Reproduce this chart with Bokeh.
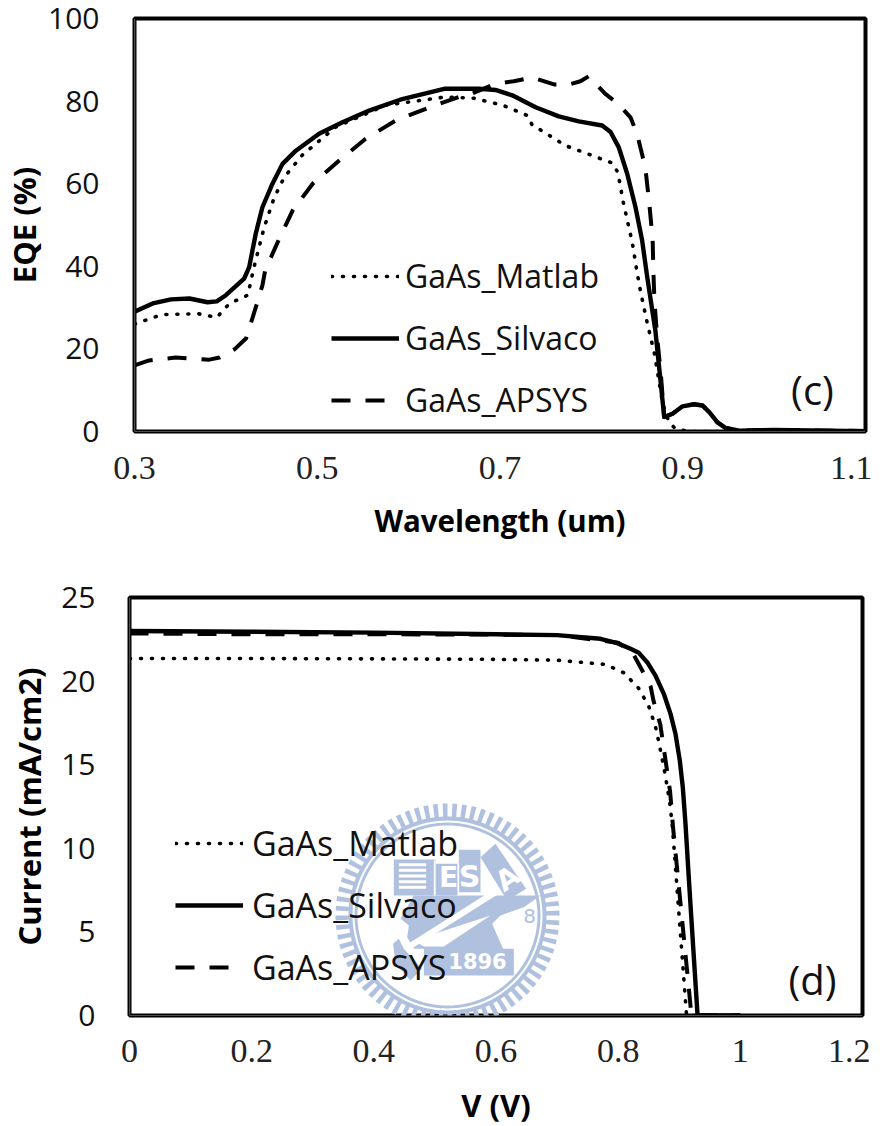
import math
from bokeh.embed import file_html
from bokeh.resources import INLINE
from bokeh.layouts import column
from bokeh.plotting import figure
from bokeh.models import Range1d, Span, Label, PolyAnnotation, FixedTicker, Arrow

# ---- panel (c) data ----
c_silvaco_x = [0.30,0.32,0.34,0.36,0.38,0.39,0.40,0.41,0.42,0.4255,0.4328,0.44,0.451,0.462,0.4766,0.502,0.5276,0.5568,0.593,0.64,0.6768,0.695,0.7134,0.739,0.7643,0.7862,0.8118,0.821,0.83,0.8392,0.8483,0.8556,0.8611,0.870,0.8797,0.8888,0.8998,0.9125,0.9216,0.929,0.938,0.947,0.9618,1.00,1.10]
c_silvaco_y = [29,31,32,32.2,31.3,31.5,33,35,37,39.8,48,54.3,60,64.8,68,72.1,74.9,77.7,80.5,83,83,82.7,81.4,78.5,76.3,75.1,74.1,72.5,68.8,62.4,54.3,46.2,37.4,24.5,3.5,4.3,6.1,6.6,6.3,4.7,2.2,0.84,0.2,0.4,0.1]
c_matlab_x = [0.30,0.305,0.33,0.37,0.39,0.404,0.424,0.431,0.442,0.453,0.464,0.484,0.52,0.575,0.64,0.671,0.703,0.73,0.735,0.772,0.823,0.829,0.835,0.845,0.85,0.854,0.861,0.869,0.878,0.885,0.892,0.907,1.10]
c_matlab_y = [26,26.4,28.3,28.5,27.6,31,33,40,49.5,56.7,61.6,67,73.7,79,81,80.7,79,76.5,74.3,69.2,65,62.7,55.4,45.5,38.5,33.7,26.4,18.9,6.8,2.2,0.7,0,0]
c_apsys_x = [0.30,0.316,0.345,0.382,0.393,0.41,0.422,0.429,0.434,0.44,0.443,0.456,0.473,0.495,0.524,0.553,0.586,0.623,0.655,0.665,0.695,0.715,0.735,0.76,0.775,0.788,0.797,0.815,0.83,0.843,0.85,0.859,0.863,0.867,0.868,0.869,0.872,0.876,0.8797,0.8888,0.8998,0.9125,0.9216,0.929,0.938,0.947,0.9618,1.00,1.10]
c_apsys_y = [16,17.2,17.9,17.4,17.9,20,22.5,27.4,31,35.4,39,45.5,53.5,60,65.6,70.9,75.3,78.5,81,81.4,84.2,84.8,85.7,84,84,84.8,86,81.8,79.2,76,72,64,56,46.7,38,31.7,22.8,14,3.5,4.3,6.1,6.6,6.3,4.7,2.2,0.84,0.2,0.4,0.1]

# ---- panel (d) data ----
d_matlab_v = [0,0.2,0.4,0.6,0.7,0.779,0.809,0.833,0.85,0.861,0.868,0.877,0.885,0.889,0.912,1.0]
d_matlab_i = [21.35,21.35,21.33,21.3,21.25,21,20.5,19.6,18.5,17.3,16.1,14.4,12.6,11.2,0,0]
d_silvaco_v = [0,0.2,0.4,0.6,0.7,0.771,0.7984,0.8202,0.8338,0.8475,0.8611,0.8747,0.8857,0.8938,0.9009,0.9058,0.9102,0.916,0.923,0.93,1.0]
d_silvaco_i = [23.0,22.95,22.9,22.8,22.75,22.53,22.27,21.93,21.69,21.13,20.33,19.24,18.04,16.85,15.25,13.65,11.47,8,4,0,0]
d_apsys_v = [0,0.2,0.4,0.6,0.7,0.80,0.825,0.837,0.853,0.858,0.869,0.877,0.885,0.89,0.92,1.0]
d_apsys_i = [22.85,22.8,22.8,22.78,22.75,22.3,21.6,20.8,19.7,18.8,17.4,15.4,13.4,11.2,0,0]

c_xticks = [0.3,0.5,0.7,0.9,1.1]
c_yticks = [0,20,40,60,80,100]
d_xticks = [0,0.2,0.4,0.6,0.8,1,1.2]
d_yticks = [0,5,10,15,20,25]
names = ["GaAs_Matlab","GaAs_Silvaco","GaAs_APSYS"]

SANS = "Open Sans"
SERIF = "Liberation Serif"
LOGO = "#AFC1DF"

def panel(xr, yr, xt, yt, fw, fh, left, top, bottom, xlabel, ylabel, xfs):
    p = figure(output_backend="svg", toolbar_location=None, x_range=Range1d(*xr), y_range=Range1d(*yr),
               frame_width=fw, frame_height=fh, min_border_left=left, min_border_top=top,
               min_border_bottom=bottom, min_border_right=870-left-fw, background_fill_color="white",
               border_fill_color="white", x_axis_label=xlabel, y_axis_label=ylabel)
    p.grid.visible = False
    p.outline_line_color = "black"
    p.outline_line_width = 4
    p.xaxis.ticker = FixedTicker(ticks=xt)
    p.yaxis.ticker = FixedTicker(ticks=yt)
    for ax in (p.xaxis[0], p.yaxis[0]):
        ax.axis_line_color = None
        ax.major_tick_line_color = None
        ax.minor_tick_line_color = None
        ax.axis_label_text_font = SANS
        ax.axis_label_text_font_style = "bold"
        ax.axis_label_text_color = "black"
        ax.major_label_text_color = "#111111"
    p.xaxis.axis_label_text_font_size = xfs
    p.yaxis.axis_label_text_font_size = "31px"
    p.xaxis.major_label_text_font = SERIF
    p.xaxis.major_label_text_font_size = "34px"
    p.xaxis.major_label_text_color = "#222222"
    p.yaxis.major_label_text_font = SANS
    p.yaxis.major_label_text_font_size = "30px"
    p.add_layout(Span(location=xr[0], dimension="height", line_color="#999999", line_width=1.2))
    p.add_layout(Span(location=yr[0], dimension="width", line_color="#999999", line_width=1.2))
    return p

def draw_lines(p, series):
    styles = [dict(line_width=3.6, line_dash="1 10", line_cap="round"),
              dict(line_width=4.4, line_join="round"),
              dict(line_width=4, line_dash="19 15", line_join="round")]
    for (x, y), name, st in zip(series, names, styles):
        p.line(x, y, line_color="black", legend_label=name, **st)

def style_legend(p, loc, fs, spacing, standoff):
    lg = p.legend[0]
    lg.location = loc
    lg.background_fill_alpha = 0
    lg.border_line_color = None
    lg.margin = 0
    lg.padding = 0
    lg.glyph_width = 68
    lg.glyph_height = 30
    lg.label_height = 30
    lg.label_standoff = standoff
    lg.spacing = spacing
    lg.label_text_font = SANS
    lg.label_text_font_size = fs
    lg.label_text_color = "#111111"

def circle_pts(cx, cy, r, n=120):
    a = [2*math.pi*i/n for i in range(n)]
    return [cx+r*math.cos(t) for t in a], [cy+r*math.sin(t) for t in a]

def poly(p, pts, color=LOGO, level="underlay"):
    p.add_layout(PolyAnnotation(xs=[q[0] for q in pts], ys=[q[1] for q in pts], xs_units="screen", ys_units="screen",
                                fill_color=color, fill_alpha=1, line_color=None, level=level,
                                editable=False))

def watermark(p, fx, fb):
    # fx, fb: page position of the frame's left and bottom edges
    cx, cy = 447-fx, fb-915
    teeth = []
    n = 72
    for i in range(n):
        for da, r in ((0.0,112),(0.5,112),(0.5,99),(1.0,99)):
            t = 2*math.pi*(i+da)/n
            teeth.append((cx+r*math.cos(t), cy+r*math.sin(t)))
    poly(p, teeth)
    # the teeth that stick out under the frame
    for i in range(n):
        t = 2*math.pi*(i+0.25)/n
        x1, y1 = cx+112*math.cos(t), cy+112*math.sin(t)
        if y1 < -3:
            k = (cy+3)/(112*abs(math.sin(t)))
            x0, y0 = cx+112*k*math.cos(t), -3
            p.add_layout(Arrow(end=None, start=None, x_start=x0, y_start=y0, x_end=x1, y_end=y1,
                               start_units="screen", end_units="screen",
                               line_color=LOGO, line_width=4.5))
    for r, c in ((95,"white"),(93,LOGO),(90,"white")):
        xs, ys = circle_pts(cx, cy, r)
        poly(p, list(zip(xs, ys)), c)
    def P(pts):
        return [(380+a/3-fx, fb-(840+b/3)) for a, b in pts]
    poly(p, P([(60,235),(100,165),(480,165),(430,200),(360,225),(335,250),(350,285),(368,325),(400,325),(400,405),(130,405),(130,325),(100,325),(80,290),(85,255)]))
    poly(p, P([(40,57),(165,57),(165,165),(40,165)]))
    poly(p, P([(165,70),(232,70),(232,165),(165,165)]))
    poly(p, P([(235,28),(300,28),(300,155),(235,155)]))
    poly(p, P([(345,10),(437,145),(380,180),(300,50)]))
    poly(p, P([(38,310),(55,295),(70,325),(125,385),(90,420),(45,370)]))
    for k in range(5):
        y0 = 68 + k*17
        poly(p, P([(55,y0),(137,y0),(137,y0+9),(55,y0+9)]), "white")
    poly(p, P([(75,315),(350,140),(362,155),(85,330)]), "white")
    poly(p, P([(130,318),(190,318),(330,225),(100,300)]), "white")
    poly(p, P([(160,60),(165,60),(165,165),(160,165)]), "white")
    poly(p, P([(231,70),(236,70),(236,165),(231,165)]), "white")
    for txt, x, y, fs, ang, col, st in (("1896",477,960,"21px",0,"white","bold"),("E",448,877,"28px",0,"white","bold"),
                                    ("S",469,876,"30px",0,"white","bold"),("A",507,878,"28px",0.6,"white","bold"),
                                    ("8",529,915,"20px",0,LOGO,"normal")):
        p.add_layout(Label(x=x-fx, y=fb-y, x_units="screen", y_units="screen", text=txt, text_font="DejaVu Sans",
                           text_font_style=st, text_font_size=fs, text_color=col, angle=ang,
                           text_align="center", text_baseline="middle", level="underlay"))

# ---- panel (c) ----
p1 = panel((0.3,1.1),(0,100),c_xticks,c_yticks,731,413,132,18,119,"Wavelength (um)","EQE (%)","29.5px")
draw_lines(p1, [(c_matlab_x,c_matlab_y),(c_silvaco_x,c_silvaco_y),(c_apsys_x,c_apsys_y)])
style_legend(p1, (197,10), "32px", 19, 6)
p1.add_layout(Label(x=810-132, y=431-389, x_units="screen", y_units="screen", text="(c)", text_font=SANS,
                    text_font_size="40px", text_color="#111111", text_align="center", text_baseline="middle"))
p1.yaxis.major_label_standoff = 29
p1.xaxis.major_label_standoff = 19
p1.yaxis.axis_label_standoff = 0
p1.xaxis.axis_label_standoff = 18

# ---- panel (d) ----
p2 = panel((0,1.2),(0,25),d_xticks,d_yticks,733,418,129,47,103,"V (V)","Current (mA/cm2)","31px")
watermark(p2, 129, 1015)
draw_lines(p2, [(d_matlab_v,d_matlab_i),(d_silvaco_v,d_silvaco_i),(d_apsys_v,d_apsys_i)])
style_legend(p2, (46,25), "34px", 16, 9)
p2.add_layout(Label(x=812-129, y=1015-979, x_units="screen", y_units="screen", text="(d)", text_font=SANS,
                    text_font_size="40px", text_color="#111111", text_align="center", text_baseline="middle"))
p2.yaxis.major_label_standoff = 28
p2.xaxis.major_label_standoff = 18
p2.yaxis.axis_label_standoff = 8
p2.xaxis.axis_label_standoff = 19

open("out.html","w").write(file_html(column(column(p1),column(p2)), INLINE))
